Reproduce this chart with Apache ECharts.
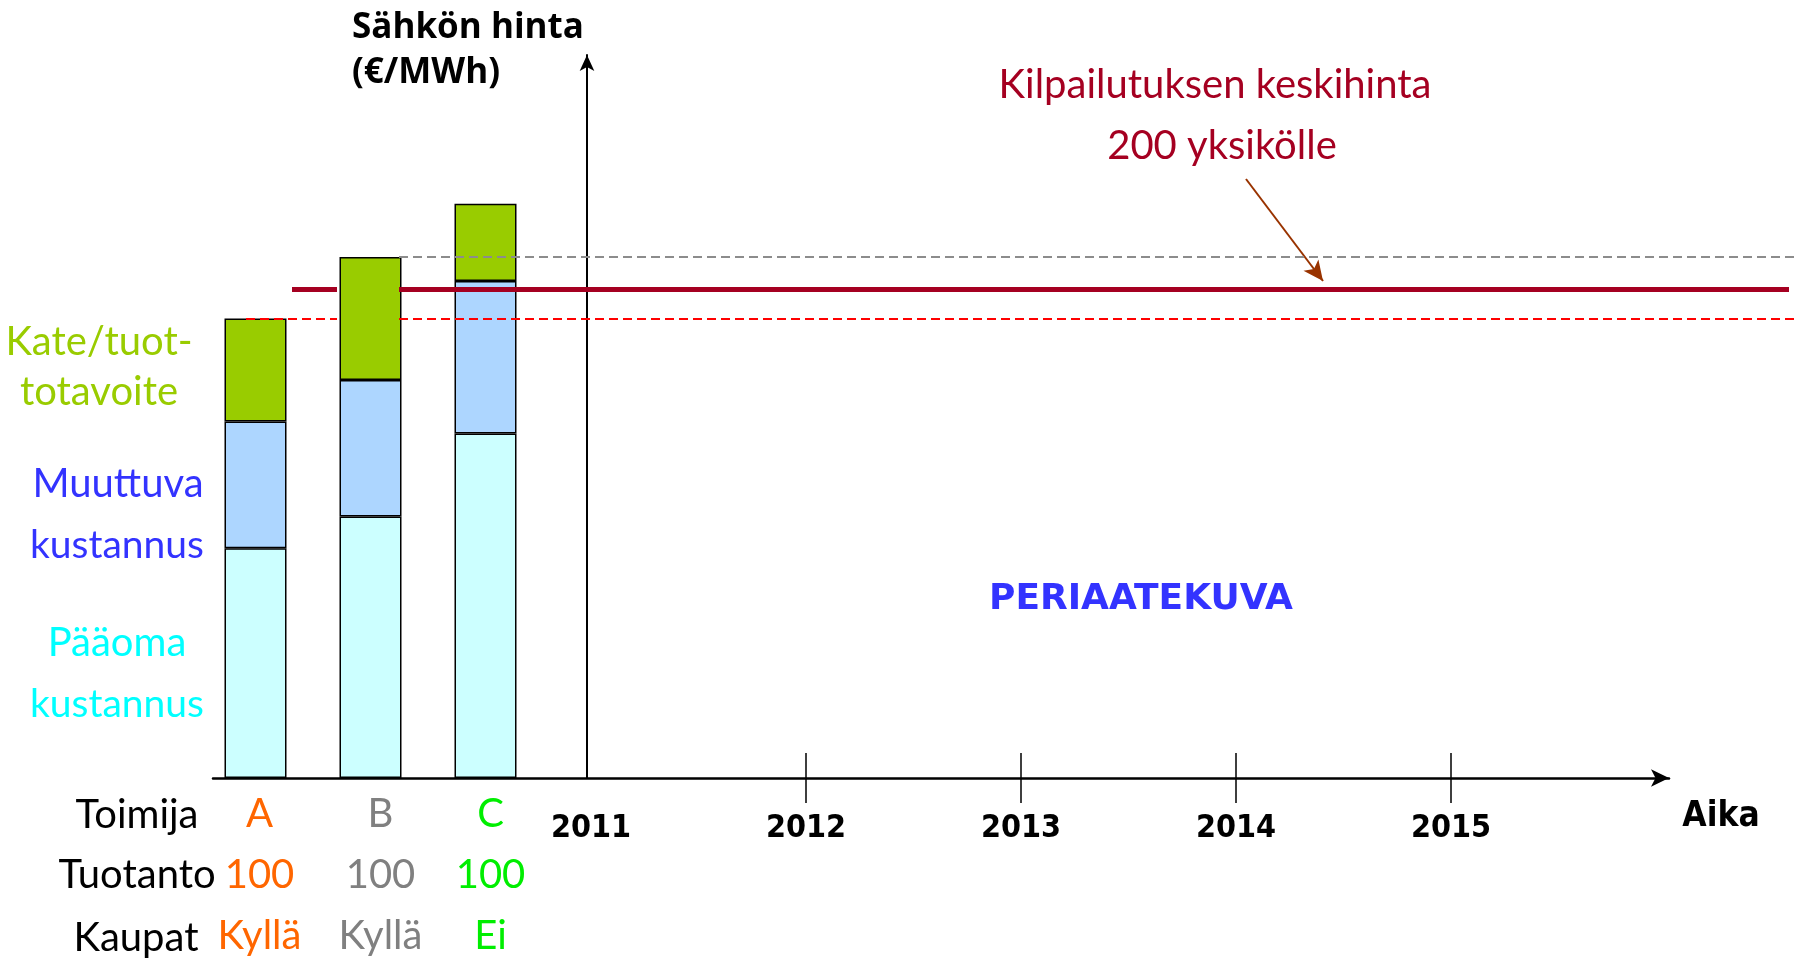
<!DOCTYPE html>
<html>
<head>
<meta charset="utf-8">
<script src="https://cdn.jsdelivr.net/npm/echarts@6/dist/echarts.min.js"></script>
<style>
html,body{margin:0;padding:0;background:#fff}
#chart{width:1798px;height:960px}
</style>
</head>
<body>
<div id="chart"></div>
<script>
// toimijat ja niiden tiedot
var toimijat = ['A', 'B', 'C'];
var tuotanto = [100, 100, 100];
var kaupat = ['Kyllä', 'Kyllä', 'Ei'];

// hinnan osat (periaatekuva, ei mittakaavaa)
var paaoma = [116, 132, 174];
var muuttuva = [64, 69, 77];
var kate = [52, 62, 39];

// aika-akseli
var vuodet = [2011, 2012, 2013, 2014, 2015];
var vuosiTicks = [2012, 2013, 2014, 2015];

// kilpailutuksen keskihinta
var keskihinta = 247;

var hintaA = paaoma[0] + muuttuva[0] + kate[0];
var hintaB = paaoma[1] + muuttuva[1] + kate[1];

var gill = 'Lato, "Open Sans", sans-serif';
var narrow = '"DejaVu Sans Condensed", "Liberation Sans Narrow", "Liberation Sans", sans-serif';
var toimijaColors = ['#FF6600', '#808080', '#00EE00'];

var myChart = echarts.init(document.getElementById('chart'));

function txt(text, x, y, size, color, opts) {
	opts = opts || {};
	return {
		type: 'text',
		x: x,
		y: y,
		silent: true,
		style: {
			text: text,
			fontSize: size,
			fontFamily: opts.family || gill,
			fontWeight: opts.weight || 'normal',
			fill: color,
			align: opts.align || 'center',
			verticalAlign: 'middle'
		}
	};
}

var aikaMin = 2009.2419;
var aikaMax = 2016.014;

var option = {
	animation: false,
	backgroundColor: '#fff',
	grid: [
		{left: 198, width: 345, top: 65, height: 713},
		{left: 213, width: 1456, top: 55, height: 723}
	],
	xAxis: [
		{
			type: 'category',
			gridIndex: 0,
			data: toimijat,
			axisLine: {show: false},
			axisTick: {show: false},
			axisLabel: {
				margin: 6,
				formatter: function (value, idx) {
					var s = 'c' + idx;
					return '{' + s + '|' + value + '}\n{' + s + '|' + tuotanto[idx] + '}\n{' + s + '|' + kaupat[idx] + '}';
				},
				rich: {
					c0: {color: toimijaColors[0], fontSize: 40, fontFamily: gill, lineHeight: 61, padding: [0, 0, 0, 8]},
					c1: {color: toimijaColors[1], fontSize: 40, fontFamily: gill, lineHeight: 61, padding: [0, 0, 0, 20]},
					c2: {color: toimijaColors[2], fontSize: 40, fontFamily: gill, lineHeight: 61, padding: [0, 0, 0, 10]}
				}
			}
		},
		{
			type: 'value',
			gridIndex: 1,
			position: 'bottom',
			min: aikaMin,
			max: aikaMax,
			splitLine: {show: false},
			axisLine: {
				show: true,
				onZero: false,
				symbol: ['none', 'arrow'],
				symbolSize: [13, 18],
				lineStyle: {color: '#000', width: 2.5}
			},
			axisTick: {
				show: true,
				customValues: vuosiTicks,
				length: 25,
				lineStyle: {color: '#000', width: 1.5}
			},
			axisLabel: {
				customValues: vuodet,
				formatter: function (v) { return String(Math.round(v)); },
				margin: 35,
				fontSize: 32,
				fontWeight: 'bold',
				fontFamily: narrow,
				color: '#000'
			}
		},
		{
			type: 'value',
			gridIndex: 1,
			position: 'bottom',
			min: aikaMin,
			max: aikaMax,
			splitLine: {show: false},
			axisLine: {show: false, onZero: false},
			axisTick: {
				show: true,
				inside: true,
				customValues: vuosiTicks,
				length: 25,
				lineStyle: {color: '#000', width: 1.5}
			},
			axisLabel: {show: false}
		}
	],
	yAxis: [
		{type: 'value', gridIndex: 0, min: 0, max: 360, show: false},
		{
			type: 'value',
			gridIndex: 1,
			min: 0,
			max: 365,
			offset: -374,
			splitLine: {show: false},
			axisTick: {show: false},
			axisLabel: {show: false},
			axisLine: {
				show: true,
				onZero: false,
				symbol: ['none', 'arrow'],
				symbolSize: [11, 16],
				lineStyle: {color: '#000', width: 2}
			}
		}
	],
	series: [
		{
			name: 'Pääoma kustannus',
			type: 'bar',
			xAxisIndex: 0,
			yAxisIndex: 0,
			stack: 'hinta',
			barWidth: 62,
			data: paaoma,
			itemStyle: {color: '#CCFFFF', borderColor: '#000', borderWidth: 1.5},
			markLine: {
				silent: true,
				symbol: ['none', 'arrow'],
				symbolSize: [14, 20],
				label: {show: false},
				lineStyle: {color: '#993300', width: 2, type: 'solid'},
				data: [
					[{x: 1246, y: 179}, {x: 1323, y: 281}]
				]
			}
		},
		{
			name: 'Muuttuva kustannus',
			type: 'bar',
			xAxisIndex: 0,
			yAxisIndex: 0,
			stack: 'hinta',
			barWidth: 62,
			data: muuttuva,
			itemStyle: {color: '#ADD6FF', borderColor: '#000', borderWidth: 1.5}
		},
		{
			name: 'Kate/tuottotavoite',
			type: 'bar',
			xAxisIndex: 0,
			yAxisIndex: 0,
			stack: 'hinta',
			barWidth: 62,
			data: kate,
			itemStyle: {color: '#99CC00', borderColor: '#000', borderWidth: 1.5},
			markLine: {
				silent: true,
				symbol: 'none',
				label: {show: false},
				data: [
					// B:n hintataso
					[{x: 399, yAxis: hintaB, lineStyle: {color: '#8C8C8C', width: 2, type: [9, 5]}}, {x: 1798, yAxis: hintaB}],
					// A:n hintataso
					[{x: 246, yAxis: hintaA, lineStyle: {color: '#FF0000', width: 2, type: [9, 5]}}, {x: 337, yAxis: hintaA}],
					[{x: 399, yAxis: hintaA, lineStyle: {color: '#FF0000', width: 2, type: [9, 5]}}, {x: 1798, yAxis: hintaA}],
					// keskihinta
					[{x: 292, yAxis: keskihinta, lineStyle: {color: '#A50021', width: 5, type: 'solid'}}, {x: 337, yAxis: keskihinta}],
					[{x: 399, yAxis: keskihinta, lineStyle: {color: '#A50021', width: 5, type: 'solid'}}, {x: 1789, yAxis: keskihinta}]
				]
			}
		}
	],
	graphic: [
		txt('Sähkön hinta', 352, 28, 35, '#000', {weight: 'bold', family: '"Open Sans", sans-serif', align: 'left'}),
		txt('(€/MWh)', 352, 73, 35, '#000', {weight: 'bold', family: '"Open Sans", sans-serif', align: 'left'}),
		txt('Kilpailutuksen keskihinta', 1215, 85, 40, '#A50021'),
		txt('200 yksikölle', 1222, 146, 40, '#A50021'),
		txt('Kate/tuot-', 99, 342, 40, '#99CC00'),
		txt('totavoite', 99, 392, 40, '#99CC00'),
		txt('Muuttuva', 118, 484, 40, '#3333FF'),
		txt('kustannus', 117, 545, 39, '#3333FF'),
		txt('Pääoma', 117, 643, 40, '#00FFFF'),
		txt('kustannus', 117, 704, 39, '#00FFFF'),
		txt('Toimija', 137, 815, 40, '#000'),
		txt('Tuotanto', 137, 875, 40, '#000'),
		txt('Kaupat', 136, 938, 40, '#000'),
		txt('PERIAATEKUVA', 1141, 600, 36, '#3333FF', {weight: 'bold', family: '"DejaVu Sans", sans-serif'}),
		txt('Aika', 1721, 817, 35, '#000', {weight: 'bold', family: narrow})
	]
};

myChart.setOption(option);
</script>
</body>
</html>
